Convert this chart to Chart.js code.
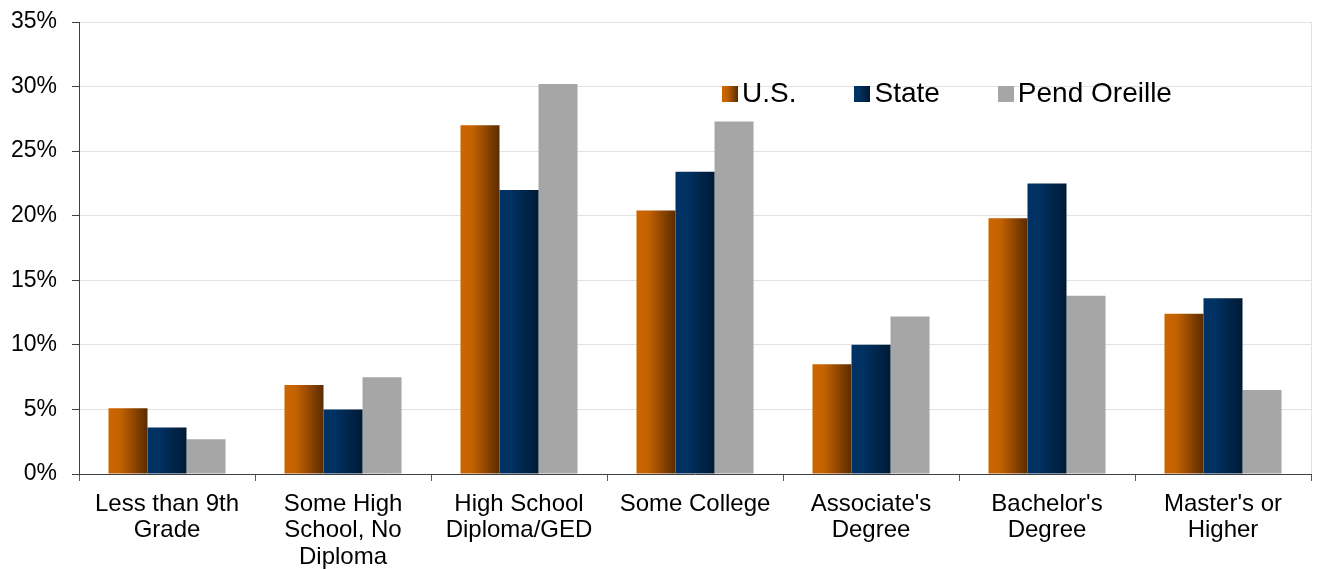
<!DOCTYPE html>
<html lang="en">
  <head>
    <meta charset="UTF-8" />
    <title>Educational Attainment</title>
    <style>
      body {
        margin: 0;
        background: #ffffff;
        font-family: "Liberation Sans", Arial, sans-serif;
      }
      .wrap {
        position: relative;
        width: 1317px;
        height: 569px;
      }
      .legend {
        position: absolute;
        left: 722px;
        top: 77px;
        display: flex;
        align-items: center;
        font-size: 28px;
        color: #000;
      }
      .legend .item {
        display: flex;
        align-items: center;
        margin-right: 58px;
      }
      .legend .box {
        width: 16px;
        height: 16px;
        margin-right: 4px;
        margin-top: 2px;
      }
    </style>
  </head>
  <body>
    <div class="wrap">
      <canvas id="eduChart" width="1317" height="569"></canvas>
      <div class="legend" id="legend"></div>
    </div>
    <script src="https://cdn.jsdelivr.net/npm/chart.js@4/dist/chart.umd.min.js"></script>
    <script>
      const categories = [
        ["Less than 9th", "Grade"],
        ["Some High", "School, No", "Diploma"],
        ["High School", "Diploma/GED"],
        ["Some College"],
        ["Associate's", "Degree"],
        ["Bachelor's", "Degree"],
        ["Master's or", "Higher"],
      ];
      const seriesNames = ["U.S.", "State", "Pend Oreille"];
      const usValues = [5.1, 6.9, 27.0, 20.4, 8.5, 19.8, 12.4];
      const stateValues = [3.6, 5.0, 22.0, 23.4, 10.0, 22.5, 13.6];
      const pendOreilleValues = [2.7, 7.5, 30.2, 27.3, 12.2, 13.8, 6.5];
      const yTicks = [0, 5, 10, 15, 20, 25, 30, 35];

      // left-to-right shading for each series: [light, light, dark]
      const shades = [
        ["#cc6600", "#c46200", "#5a2c00"],
        ["#003366", "#003163", "#001a33"],
        null,
      ];
      const flatColors = ["#cc6600", "#003366", "#a6a6a6"];

      // horizontal gradient across every bar, using the bar's own geometry
      const barShading = {
        id: "barShading",
        beforeDatasetsDraw(chart) {
          const ctx = chart.ctx;
          chart.data.datasets.forEach((ds, i) => {
            const stops = shades[i];
            if (!stops) return;
            chart.getDatasetMeta(i).data.forEach((bar) => {
              const { x, width } = bar.getProps(["x", "width"], true);
              const g = ctx.createLinearGradient(x - width / 2, 0, x + width / 2, 0);
              g.addColorStop(0, stops[0]);
              g.addColorStop(0.3, stops[1]);
              g.addColorStop(1, stops[2]);
              bar.options = Object.assign({}, bar.options, { backgroundColor: g });
            });
          });
        },
        afterDraw(chart) {
          // light frame line on the right side of the plot
          const { ctx, chartArea } = chart;
          ctx.save();
          ctx.strokeStyle = "#e3e3e3";
          ctx.lineWidth = 1;
          ctx.beginPath();
          ctx.moveTo(chartArea.right + 0.5, chartArea.top);
          ctx.lineTo(chartArea.right + 0.5, chartArea.bottom);
          ctx.stroke();
          ctx.restore();
        },
      };

      const values = [usValues, stateValues, pendOreilleValues];

      const data = {
        labels: categories,
        datasets: seriesNames.map((name, i) => ({
          label: name,
          data: values[i],
          backgroundColor: flatColors[i],
          borderWidth: 0,
          barPercentage: 1.0,
          categoryPercentage: 0.665,
        })),
      };

      const config = {
        type: "bar",
        data: data,
        options: {
          responsive: false,
          animation: false,
          layout: {
            padding: { left: 11, right: 6, top: 22, bottom: 0 },
          },
          plugins: {
            legend: { display: false },
            tooltip: { enabled: false },
          },
          scales: {
            x: {
              afterFit(axis) {
                axis.height = 95;
              },
              grid: {
                offset: true,
                drawOnChartArea: false,
                tickLength: 7,
                tickColor: "#595959",
              },
              border: { color: "#404040", width: 1 },
              ticks: {
                autoSkip: false,
                maxRotation: 0,
                padding: 10,
                color: "#000",
                font: { family: "'Liberation Sans', Arial", size: 24, lineHeight: 1.1 },
              },
            },
            y: {
              min: 0,
              max: 35,
              afterBuildTicks(axis) {
                axis.ticks = yTicks.map((v) => ({ value: v }));
              },
              afterFit(axis) {
                axis.width = 68;
                axis.paddingTop = 0;
                axis.paddingBottom = 0;
              },
              grid: {
                color: "#e3e3e3",
                tickColor: "#404040",
                tickLength: 7,
              },
              border: { color: "#404040", width: 1 },
              ticks: {
                padding: 15,
                color: "#000",
                font: { family: "'Liberation Sans', Arial", size: 23 },
                callback: (v) => v + "%",
              },
            },
          },
        },
        plugins: [barShading],
      };

      const myChart = new Chart(document.getElementById("eduChart"), config);

      // legend row inside the plot
      const legend = document.getElementById("legend");
      seriesNames.forEach((name, i) => {
        const item = document.createElement("div");
        item.className = "item";
        const box = document.createElement("span");
        box.className = "box";
        box.style.background = shades[i]
          ? `linear-gradient(to right, ${shades[i][0]} 0%, ${shades[i][1]} 30%, ${shades[i][2]} 100%)`
          : flatColors[i];
        const label = document.createElement("span");
        label.textContent = name;
        item.appendChild(box);
        item.appendChild(label);
        legend.appendChild(item);
      });
    </script>
  </body>
</html>
